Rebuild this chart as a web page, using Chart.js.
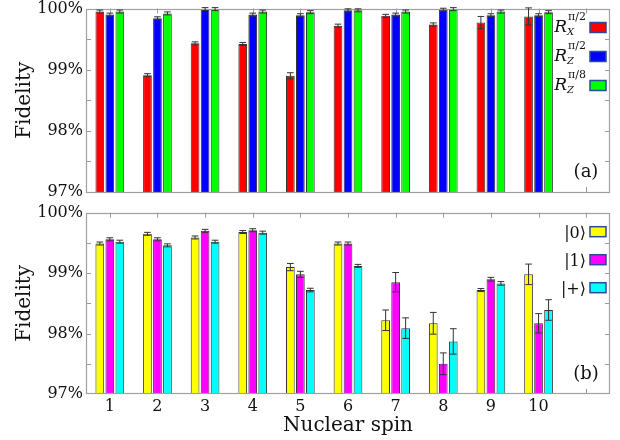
<!DOCTYPE html>
<html>
<head>
<meta charset="UTF-8">
<title>Fidelity per nuclear spin</title>
<script src="https://cdn.jsdelivr.net/npm/chart.js"></script>
<style>
  body { margin: 0; background: #fff; }
  #wrap { position: relative; width: 620px; height: 440px; }
  .panel { position: absolute; left: 0; width: 620px; }
  #topBox { top: 0; height: 200px; }
  #botBox { top: 200px; height: 240px; }
</style>
</head>
<body>
<div id="wrap">
  <div class="panel" id="topBox"><canvas id="topChart"></canvas></div>
  <div class="panel" id="botBox"><canvas id="botChart"></canvas></div>
</div>
<script>
// ---- data ----
const spins = ['1', '2', '3', '4', '5', '6', '7', '8', '9', '10'];
const yTicks = [97, 98, 99, 100];

// (a) gates
const rxHalfPi     = [99.95, 98.91, 99.43, 99.42, 98.90, 99.72, 99.88, 99.74, 99.77, 99.87];
const rxHalfPiErr  = [0.01, 0.01, 0.02, 0.01, 0.05, 0.01, 0.01, 0.01, 0.10, 0.14];
const rzHalfPi     = [99.90, 99.84, 99.99, 99.90, 99.89, 99.97, 99.90, 99.98, 99.89, 99.89];
const rzHalfPiErr  = [0.02, 0.01, 0.01, 0.01, 0.01, 0.01, 0.01, 0.01, 0.01, 0.01];
const rzEighthPi   = [99.95, 99.92, 99.99, 99.95, 99.94, 99.97, 99.95, 99.99, 99.95, 99.94];
const rzEighthPiErr= [0.01, 0.01, 0.01, 0.01, 0.01, 0.01, 0.01, 0.01, 0.01, 0.01];
const gateSub = ['X', 'Z', 'Z'];
const gateSup = ['π/2', 'π/2', 'π/8'];

// (b) states
const state0       = [99.49, 99.65, 99.59, 99.68, 99.10, 99.49, 98.22, 98.17, 98.72, 98.98];
const state0Err    = [0.01, 0.01, 0.01, 0.01, 0.06, 0.01, 0.17, 0.18, 0.02, 0.17];
const state1       = [99.56, 99.56, 99.70, 99.71, 98.98, 99.49, 98.85, 97.50, 98.90, 98.17];
const state1Err    = [0.01, 0.01, 0.01, 0.01, 0.05, 0.01, 0.16, 0.18, 0.03, 0.16];
const statePlus    = [99.52, 99.46, 99.52, 99.67, 98.72, 99.12, 98.09, 97.87, 98.83, 98.39];
const statePlusErr = [0.01, 0.01, 0.01, 0.01, 0.03, 0.01, 0.17, 0.21, 0.03, 0.17];
const stateNames = ['|0⟩', '|1⟩', '|+⟩'];

const SERIF = '"DejaVu Serif", "Liberation Serif", serif';
const INK = '#111';

// ---- plugins ----
// gray box with inward ticks, like the matlab axes
const frame = {
  id: 'frame',
  beforeDatasetsDraw(chart) {
    const {ctx, chartArea: a, scales: {x, y}} = chart;
    ctx.save();
    ctx.strokeStyle = '#9a9a9a';
    ctx.lineWidth = 1;
    ctx.beginPath();
    for (let v = yTicks[0] + 0.5; v < yTicks[yTicks.length - 1]; v += 0.5) {
      const py = Math.round(y.getPixelForValue(v)) + 0.5;
      ctx.moveTo(a.left, py); ctx.lineTo(a.left + 5, py);
      ctx.moveTo(a.right, py); ctx.lineTo(a.right - 5, py);
    }
    x.ticks.forEach((t, k) => {
      const px = Math.round(x.getPixelForTick(k)) + 0.5;
      ctx.moveTo(px, a.top); ctx.lineTo(px, a.top + 5);
      ctx.moveTo(px, a.bottom); ctx.lineTo(px, a.bottom - 5);
    });
    ctx.stroke();
    ctx.restore();
  },
  afterDatasetsDraw(chart) {
    const {ctx, chartArea: a} = chart;
    ctx.save();
    ctx.strokeStyle = '#a0a0a0';
    ctx.lineWidth = 1.2;
    ctx.strokeRect(Math.round(a.left) + 0.5, Math.round(a.top) + 0.5,
                   Math.round(a.width) - 1, Math.round(a.height) - 1);
    ctx.restore();
  }
};

const errorBars = {
  id: 'errorBars',
  afterDatasetsDraw(chart) {
    const ctx = chart.ctx, y = chart.scales.y;
    ctx.save();
    ctx.strokeStyle = '#333';
    ctx.lineWidth = 1;
    chart.data.datasets.forEach((ds, i) => {
      chart.getDatasetMeta(i).data.forEach((bar, j) => {
        const v = ds.data[j];
        if (v == null) return;
        const e = ds.errors[j];
        const py = y.getPixelForValue(v);
        const d = Math.max(y.getPixelForValue(v - e) - py, 1.5);
        const half = bar.width / 2 - 1;
        ctx.beginPath();
        ctx.moveTo(bar.x, py - d); ctx.lineTo(bar.x, py + d);
        ctx.moveTo(bar.x - half, py - d); ctx.lineTo(bar.x + half, py - d);
        ctx.moveTo(bar.x - half, py + d); ctx.lineTo(bar.x + half, py + d);
        ctx.stroke();
      });
    });
    ctx.restore();
  }
};

// legend on the right (text then swatch) plus panel tag
const panelLegend = {
  id: 'panelLegend',
  afterDraw(chart, args, opts) {
    const {ctx, chartArea: a} = chart;
    ctx.save();
    chart.data.datasets.forEach((ds, i) => {
      const yc = a.top + 19 + opts.step * i;
      const sx = a.right - 20;
      ctx.fillStyle = ds.backgroundColor;
      ctx.fillRect(sx, yc - 5, 16, 10);
      ctx.strokeStyle = '#2b4a9a';
      ctx.lineWidth = 1.5;
      ctx.strokeRect(sx, yc - 5, 16, 10);
      ctx.fillStyle = INK;
      ctx.textBaseline = 'alphabetic';
      const end = sx - 4;
      if (opts.gate) {
        ctx.font = 'italic 17px ' + SERIF;
        const wR = ctx.measureText('R').width;
        ctx.font = '11px ' + SERIF;
        const wSup = ctx.measureText(gateSup[i]).width;
        const x0 = end - wR - wSup - 1;
        ctx.textAlign = 'left';
        ctx.font = 'italic 17px ' + SERIF;
        ctx.fillText('R', x0, yc + 4);
        ctx.font = '11px ' + SERIF;
        ctx.fillText(gateSup[i], x0 + wR + 1, yc - 8);
        ctx.font = 'italic 10px ' + SERIF;
        ctx.fillText(gateSub[i], x0 + wR, yc + 7);
      } else {
        ctx.font = '16px ' + SERIF;
        ctx.textAlign = 'right';
        ctx.fillText(stateNames[i], end, yc + 6);
      }
    });
    ctx.font = '18px ' + SERIF;
    ctx.fillStyle = INK;
    ctx.textAlign = 'center';
    ctx.textBaseline = 'middle';
    ctx.fillText(opts.tag, a.right - 24, a.bottom - 20);
    ctx.restore();
  }
};

// ---- chart builder ----
function bars(label, values, errs, color) {
  return {
    label: label,
    data: values,
    errors: errs,
    backgroundColor: color,
    borderColor: '#333',
    borderWidth: 1,
    categoryPercentage: 0.63,
    barPercentage: 0.87
  };
}

function yScale() {
  return {
    min: yTicks[0],
    max: yTicks[yTicks.length - 1],
    ticks: {
      stepSize: 1, padding: 3, color: INK,
      font: {family: SERIF, size: 16},
      callback: v => v + '%'
    },
    grid: {display: false, drawTicks: false},
    border: {display: false},
    title: {
      display: true, text: 'Fidelity', color: INK,
      font: {family: SERIF, size: 20},
      padding: {top: 13, bottom: 0}
    },
    afterFit: s => { s.width = 86; s.paddingTop = 0; s.paddingBottom = 0; }
  };
}

const labels = spins.concat(['']);   // one empty slot on the right for the legend

new Chart(document.getElementById('topChart'), {
  type: 'bar',
  data: {
    labels: labels,
    datasets: [
      bars('R_X^π/2', rxHalfPi, rxHalfPiErr, '#ff0000'),
      bars('R_Z^π/2', rzHalfPi, rzHalfPiErr, '#0000ff'),
      bars('R_Z^π/8', rzEighthPi, rzEighthPiErr, '#00ff00')
    ]
  },
  options: {
    responsive: true,
    maintainAspectRatio: false,
    animation: false,
    layout: {padding: {left: 0, right: 10, top: 8.5, bottom: 8}},
    plugins: {
      legend: {display: false},
      tooltip: {enabled: false},
      panelLegend: {gate: true, step: 29, tag: '(a)'}
    },
    scales: {
      x: {offset: true, display: false},
      y: yScale()
    }
  },
  plugins: [frame, errorBars, panelLegend]
});

new Chart(document.getElementById('botChart'), {
  type: 'bar',
  data: {
    labels: labels,
    datasets: [
      bars('|0⟩', state0, state0Err, '#ffff00'),
      bars('|1⟩', state1, state1Err, '#ff00ff'),
      bars('|+⟩', statePlus, statePlusErr, '#00ffff')
    ]
  },
  options: {
    responsive: true,
    maintainAspectRatio: false,
    animation: false,
    layout: {padding: {left: 0, right: 10, top: 12.7, bottom: 0}},
    plugins: {
      legend: {display: false},
      tooltip: {enabled: false},
      panelLegend: {gate: false, step: 28, tag: '(b)'}
    },
    scales: {
      x: {
        offset: true,
        grid: {display: false, drawTicks: false},
        border: {display: false},
        ticks: {
          padding: 3, color: INK, maxRotation: 0, autoSkip: false,
          font: {family: SERIF, size: 16}
        },
        title: {
          display: true, text: 'Nuclear spin', color: INK,
          font: {family: SERIF, size: 20},
          padding: {top: 0, bottom: 2}
        },
        afterFit: s => { s.height = 46; s.paddingLeft = 0; s.paddingRight = 0; }
      },
      y: yScale()
    }
  },
  plugins: [frame, errorBars, panelLegend]
});
</script>
</body>
</html>
